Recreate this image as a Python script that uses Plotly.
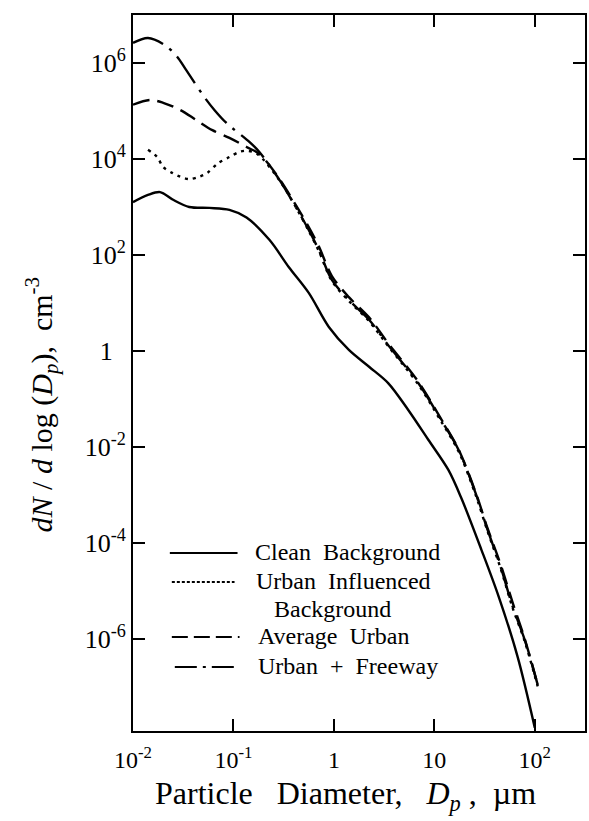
import plotly.graph_objects as go

# ---- data (diameter in µm, dN/dlogDp in cm^-3) ----
clean_x = [0.0100, 0.0141, 0.0186, 0.0251, 0.0363, 0.0575, 0.0912, 0.135, 0.229, 0.355,
           0.562, 0.891, 1.41, 2.24, 3.47, 5.50, 8.71, 13.8, 18.6, 29.5, 43.7, 67.6, 100]
clean_y = [1260, 1780, 2040, 1410, 1000, 955, 871, 603, 204, 56.2,
           16.2, 3.16, 1.05, 0.468, 0.214, 0.0589, 0.0141, 0.00331, 8.51e-4, 7.08e-5, 7.59e-6, 4.17e-7, 1.41e-8]

uib_x = [0.0141, 0.0174, 0.0200, 0.0245, 0.0295, 0.0363, 0.0457, 0.0550, 0.0692, 0.0912,
         0.115, 0.138, 0.174, 0.288, 0.417, 0.562, 0.708, 0.955, 1.41, 2.24,
         3.47, 6.92, 11.7, 17.4, 25.7, 33.9, 45.7, 60.3, 79.4, 107]
uib_y = [15500, 11000, 6760, 5130, 4270, 3800, 4270, 5130, 7940, 11000,
         14100, 14800, 12600, 3550, 1000, 316, 120, 28.8, 11.0, 4.17,
         1.26, 0.200, 0.0339, 0.00813, 1.02e-3, 1.74e-4, 2.95e-5, 4.37e-6, 8.91e-7, 1.02e-7]

avg_x = [0.0100, 0.0148, 0.0200, 0.0295, 0.0427, 0.0617, 0.0912, 0.135, 0.182, 0.288,
         0.417, 0.562, 0.708, 0.955, 1.41, 2.24, 3.47, 6.92, 11.7, 17.4,
         25.7, 33.9, 45.7, 60.3, 79.4, 107]
avg_y = [1.35e5, 1.70e5, 1.48e5, 1.05e5, 6.46e4, 3.98e4, 2.75e4, 1.78e4, 1.26e4, 3800,
         1100, 380, 151, 36.3, 13.2, 5.01, 1.45, 0.229, 0.0380, 0.00891,
         1.15e-3, 2.00e-4, 3.55e-5, 5.62e-6, 1.00e-6, 1.10e-7]

fwy_x = [0.0100, 0.0141, 0.0209, 0.0275, 0.0339, 0.0513, 0.0646, 0.0851, 0.145, 0.182,
         0.288, 0.417, 0.562, 0.708, 0.955, 1.41, 2.24, 3.47, 6.92, 11.7,
         17.4, 25.7, 33.9, 45.7, 60.3, 79.4, 107]
fwy_y = [2.63e6, 3.31e6, 2.34e6, 1.35e6, 7.08e5, 1.95e5, 1.05e5, 5.62e4, 2.24e4, 1.38e4,
         3630, 1000, 331, 126, 30.2, 11.5, 4.47, 1.32, 0.214, 0.0363,
         0.00871, 1.10e-3, 1.86e-4, 3.16e-5, 4.68e-6, 9.55e-7, 1.10e-7]

series_names = ["Clean  Background", "Urban  Influenced", "Average  Urban", "Urban  +  Freeway"]

x_tickvals = [0.01, 0.1, 1, 10, 100]
x_ticktext = ["10<sup>-2</sup>", "10<sup>-1</sup>", "1", "10", "10<sup>2</sup>"]
y_tickvals = [1e6, 1e4, 1e2, 1, 1e-2, 1e-4, 1e-6]
y_ticktext = ["10<sup>6</sup>", "10<sup>4</sup>", "10<sup>2</sup>", "1\u2002",
              "10<sup>-2</sup>", "10<sup>-4</sup>", "10<sup>-6</sup>"]

FONT = "Liberation Serif, Times New Roman, serif"
W, H = 589, 821
ML, MR, MT, MB = 133, 2, 15, 90
PW, PH = W - ML - MR, H - MT - MB

def px(xp):
    return (xp - ML) / PW

def py(yp):
    return (H - MB - yp) / PH

fig = go.Figure()
styles = [
    (clean_x, clean_y, "solid"),
    (uib_x, uib_y, "3px,5px"),
    (avg_x, avg_y, "17px,8px"),
    (fwy_x, fwy_y, "32px,8px,3px,8px"),
]
for (xs, ys, dash), name in zip(styles, series_names):
    fig.add_trace(go.Scatter(x=xs, y=ys, mode="lines", name=name,
                             line=dict(color="black", width=2.4, dash=dash,
                                       shape="spline", smoothing=0.9),
                             showlegend=False))

# legend drawn manually
leg_rows = [
    (170, 238, 553, "solid", "Clean\u00a0 Background", 254),
    (172, 235, 582, "3px,2px", "Urban\u00a0 Influenced", 255),
    (172, 240, 637, "16px,6px", "Average\u00a0 Urban", 257),
    (175, 238, 667, "22px,6px,3px,6px", "Urban\u00a0 +\u00a0 Freeway", 257),
]
shapes = []
annotations = []
for x0, x1, yy, dash, label, tx in leg_rows:
    shapes.append(dict(type="line", xref="paper", yref="paper",
                       x0=px(x0), x1=px(x1), y0=py(yy), y1=py(yy),
                       line=dict(color="black", width=2.2, dash=dash)))
    annotations.append(dict(xref="paper", yref="paper", x=px(tx), y=py(yy - 1),
                            xanchor="left", yanchor="middle", showarrow=False,
                            text=label, font=dict(family=FONT, size=24, color="black")))
annotations.append(dict(xref="paper", yref="paper", x=px(273), y=py(609),
                        xanchor="left", yanchor="middle", showarrow=False,
                        text="Background", font=dict(family=FONT, size=24, color="black")))

# axis titles
annotations.append(dict(xref="paper", yref="paper", x=px(346), y=py(796),
                        xanchor="center", yanchor="middle", showarrow=False,
                        text="Particle\u00a0\u00a0 Diameter,\u00a0\u00a0 <i>D<sub>p</sub></i>\u00a0,\u00a0 \u00b5m",
                        font=dict(family=FONT, size=32, color="black")))
annotations.append(dict(xref="paper", yref="paper", x=px(42), y=py(404),
                        xanchor="center", yanchor="middle", showarrow=False, textangle=-90,
                        text="<i>dN</i> / <i>d</i> log (<i>D<sub>p</sub></i>),\u00a0 cm<sup>-3</sup>",
                        font=dict(family=FONT, size=30, color="black")))

fig.update_layout(
    width=W, height=H,
    margin=dict(l=ML, r=MR, t=MT, b=MB, pad=0),
    paper_bgcolor="white", plot_bgcolor="white",
    font=dict(family=FONT, color="black"),
    shapes=shapes, annotations=annotations,
    showlegend=False,
)
fig.update_xaxes(type="log", range=[-2, 2.5], tickvals=x_tickvals, ticktext=x_ticktext,
                 ticks="inside", ticklen=12, tickwidth=1.5, tickcolor="black",
                 showline=True, linewidth=2, linecolor="black", mirror="ticks",
                 showgrid=False, zeroline=False, ticklabelstandoff=6,
                 tickfont=dict(family=FONT, size=24, color="black"))
fig.update_yaxes(type="log", range=[-7.92, 7], tickvals=y_tickvals, ticktext=y_ticktext,
                 ticks="inside", ticklen=12, tickwidth=1.5, tickcolor="black",
                 showline=True, linewidth=2, linecolor="black", mirror="ticks",
                 showgrid=False, zeroline=False,
                 tickfont=dict(family=FONT, size=26, color="black"))

fig.write_html("out.html")
